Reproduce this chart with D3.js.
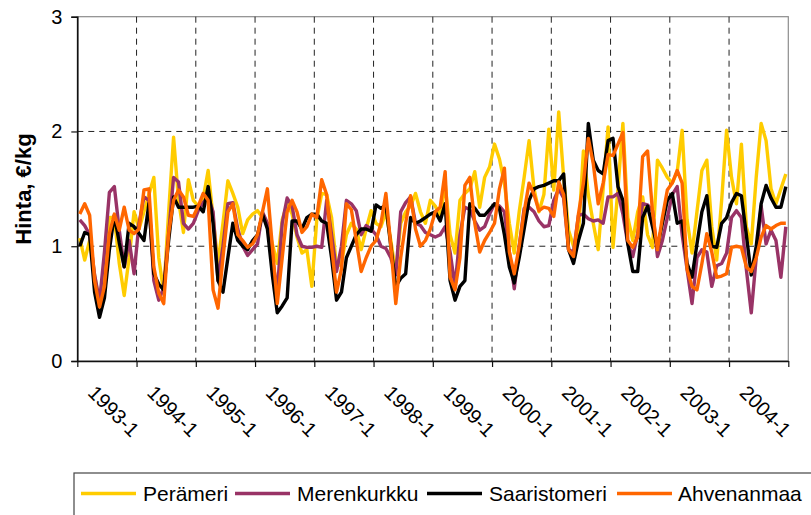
<!DOCTYPE html>
<html><head><meta charset="utf-8">
<script src="https://cdn.jsdelivr.net/npm/d3@7/dist/d3.min.js"></script>
<style>body{margin:0;background:#fff} svg{display:block;font-family:"Liberation Sans",Arial,sans-serif}</style>
</head><body><svg id="c" width="811" height="515"></svg>
<script>
const seriesNames = ["Perämeri","Merenkurkku","Saaristomeri","Ahvenanmaa"];
const seriesColors = ["#FFCC00","#993366","#000000","#FF6600"];
const yearLabels = ["1993-1","1994-1","1995-1","1996-1","1997-1","1998-1","1999-1","2000-1","2001-1","2002-1","2003-1","2004-1"];
const yTicks = [0,1,2,3];

const perameri = [1.07,0.88,1.05,0.75,0.5,0.8,1.25,1.25,0.85,0.57,0.9,1.3,
 1.15,1.3,1.45,1.6,0.9,0.6,1.3,1.95,1.4,1.12,1.58,1.4,
 1.35,1.42,1.66,1.25,0.85,1.2,1.57,1.46,1.34,1.11,1.23,1.28,
 1.31,1.25,1.2,1.02,0.85,1.23,1.37,1.28,1.08,0.94,0.97,0.65,
 1.23,1.46,1.45,1.25,0.82,0.85,1.1,1.2,1.15,0.97,1.15,1.31,
 1.2,1.17,1.3,1.05,0.76,1.2,1.3,1.35,1.46,1.3,1.2,1.4,
 1.35,1.26,1.55,1.1,0.94,1.4,1.46,1.5,1.65,1.34,1.6,1.69,
 1.89,1.76,1.55,1.2,0.94,1.3,1.6,1.92,1.5,1.3,1.45,2.02,
 1.49,2.17,1.6,1.14,1.0,1.1,1.83,1.45,1.2,0.97,1.5,2.04,
 0.99,1.5,2.07,1.25,1.05,1.3,1.43,1.1,0.99,1.75,1.68,1.6,
 1.55,1.65,2.01,1.23,0.94,1.3,1.66,1.75,1.17,0.88,1.4,2.01,
 1.6,1.37,1.89,1.17,1.02,1.6,2.07,1.92,1.5,1.37,1.5,1.63];
const merenkurkku = [1.23,1.18,1.1,0.75,0.52,0.95,1.47,1.52,1.14,0.82,1.05,0.76,
 1.2,1.43,1.4,0.7,0.53,0.64,1.11,1.6,1.56,1.2,1.15,1.2,
 1.31,1.38,1.43,1.3,0.7,1.0,1.37,1.38,1.15,1.0,0.92,0.97,
 1.02,1.3,1.2,0.9,0.6,1.2,1.42,1.35,1.1,1.0,0.99,0.99,
 1.0,0.99,1.4,1.1,0.78,1.0,1.4,1.37,1.31,1.1,1.18,1.15,
 1.1,1.0,0.98,0.9,0.75,1.3,1.38,1.43,1.2,1.18,1.12,1.1,
 1.08,1.1,1.17,0.95,0.65,1.1,1.34,1.32,1.22,1.14,1.17,1.28,
 1.37,1.35,1.3,0.95,0.63,1.0,1.33,1.34,1.3,1.22,1.17,1.18,
 1.4,1.5,1.42,0.97,0.95,1.27,1.28,1.24,1.22,1.23,1.2,1.43,
 1.43,1.46,1.28,1.02,0.91,1.11,1.37,1.36,1.31,0.91,1.05,1.25,
 1.45,1.52,1.1,0.8,0.5,0.9,0.97,0.95,0.65,0.83,0.85,0.94,
 1.25,1.31,1.25,0.8,0.42,0.9,1.35,1.02,1.14,1.05,0.73,1.17];
const saaristomeri = [1.0,1.12,1.1,0.6,0.38,0.55,0.97,1.27,1.03,0.82,1.2,1.17,
 1.11,1.05,1.37,0.76,0.67,0.62,1.05,1.43,1.34,1.34,1.34,1.34,
 1.35,1.3,1.52,1.2,0.7,0.6,0.9,1.2,1.05,1.0,0.97,1.05,
 1.1,1.28,1.15,0.75,0.42,0.48,0.55,1.22,1.22,1.15,1.25,1.28,
 1.28,1.22,1.2,0.9,0.53,0.6,0.9,1.0,1.1,1.15,1.15,1.13,
 1.36,1.33,1.36,1.0,0.65,0.72,0.76,1.25,1.2,1.22,1.25,1.28,
 1.3,1.22,1.37,0.7,0.53,0.65,0.7,1.37,1.33,1.27,1.27,1.32,
 1.37,1.33,1.1,0.82,0.68,0.9,1.15,1.4,1.5,1.52,1.53,1.55,
 1.57,1.57,1.63,0.97,0.85,1.05,1.2,2.07,1.75,1.66,1.63,1.92,
 1.94,1.52,1.4,1.02,0.78,0.78,1.25,1.35,1.17,0.99,1.2,1.4,
 1.46,1.2,1.22,0.85,0.73,1.02,1.3,1.44,1.0,0.99,1.2,1.25,
 1.38,1.46,1.44,1.1,0.75,1.0,1.37,1.53,1.42,1.34,1.34,1.52];
const ahvenanmaa = [1.28,1.37,1.27,0.7,0.47,0.65,1.11,1.28,1.14,1.34,1.14,1.11,
 1.15,1.49,1.5,0.82,0.59,0.5,1.11,1.4,1.49,1.43,1.27,1.26,
 1.35,1.46,1.4,0.62,0.46,0.9,1.3,1.37,1.1,1.05,0.99,1.02,
 1.1,1.3,1.5,1.0,0.5,0.9,1.3,1.4,1.3,1.12,1.17,1.28,
 1.25,1.58,1.45,1.0,0.6,0.8,1.37,1.32,1.05,0.78,0.9,1.0,
 1.05,1.2,1.46,1.0,0.5,0.9,1.2,1.44,1.15,1.0,1.05,1.15,
 1.3,1.34,1.65,0.73,0.62,0.9,1.53,1.6,1.2,0.95,1.05,1.12,
 1.2,1.5,1.68,0.95,0.76,1.0,1.3,1.55,1.45,1.31,1.34,1.33,
 1.26,1.56,1.45,0.97,0.91,1.28,1.55,1.94,1.72,1.37,1.55,1.8,
 1.79,1.89,1.99,1.05,0.99,1.08,1.78,1.83,1.3,0.97,1.25,1.49,
 1.55,1.66,1.55,0.8,0.65,0.62,0.85,1.11,0.95,0.73,0.74,0.76,
 0.99,1.0,0.99,0.82,0.78,0.9,1.08,1.18,1.15,1.18,1.2,1.2];

const seriesValues = [perameri, merenkurkku, saaristomeri, ahvenanmaa];
const nMonths = perameri.length;

const svg = d3.select("#c");
const L = 77.3, R = 788.3, T = 16.7, B = 361;
const x = d3.scaleLinear().domain([0, nMonths]).range([L, R]);
const y = d3.scaleLinear().domain([0, 3]).range([B, T]);

// plot area border
svg.append("rect").attr("x", L).attr("y", T).attr("width", R - L).attr("height", B - T)
  .attr("fill", "none").attr("stroke", "#8c8c8c").attr("stroke-width", 1.2);

// gridlines
const grid = svg.append("g").attr("stroke", "#222").attr("stroke-width", 1).attr("stroke-dasharray", "6,5");
grid.selectAll("line.h").data([1, 2]).join("line")
  .attr("x1", L).attr("x2", R).attr("y1", d => y(d)).attr("y2", d => y(d));
grid.selectAll("line.v").data(d3.range(12, nMonths, 12)).join("line")
  .attr("x1", d => x(d)).attr("x2", d => x(d)).attr("y1", T).attr("y2", B);

// axes
const yAxis = d3.axisLeft(y).tickValues(yTicks).tickFormat(d3.format("d")).tickSize(6).tickPadding(9);
const gy = svg.append("g").attr("transform", `translate(${L},0)`).call(yAxis);
gy.select(".domain").attr("stroke", "#111").attr("stroke-width", 1.6);
gy.selectAll(".tick line").attr("stroke", "#111").attr("stroke-width", 1.2);
gy.selectAll(".tick text").attr("font-size", 20).attr("font-family", "Liberation Sans, Arial, sans-serif").attr("fill", "#000");

const xAxis = d3.axisBottom(x).tickValues(d3.range(0, nMonths + 1, 12)).tickFormat("").tickSize(6).tickSizeOuter(0);
const gx = svg.append("g").attr("transform", `translate(0,${B})`).call(xAxis);
gx.select(".domain").attr("stroke", "#111").attr("stroke-width", 1.6);
gx.selectAll(".tick line").attr("stroke", "#111").attr("stroke-width", 1.2);

// x labels rotated
svg.append("g").selectAll("text").data(yearLabels).join("text")
  .attr("transform", (d, k) => `translate(${x(k * 12 + 0.5) + 7},${B + 33}) rotate(45)`)
  .attr("font-size", 20).attr("fill", "#000").text(d => d);

// lines
const line = d3.line().x((d, i) => x(i + 0.5)).y(d => y(d));
svg.append("g").selectAll("path").data(seriesValues).join("path")
  .attr("d", d => line(d)).attr("fill", "none")
  .attr("stroke", (d, k) => seriesColors[k]).attr("stroke-width", 3.4)
  .attr("stroke-linejoin", "round");

// y title
svg.append("text").attr("transform", "translate(31,189) rotate(-90)")
  .attr("text-anchor", "middle").attr("font-size", 22).attr("font-weight", "bold").text("Hinta, €/kg");

// legend
const lg = svg.append("g");
lg.append("rect").attr("x", 74).attr("y", 473).attr("width", 760).attr("height", 60)
  .attr("fill", "#fff").attr("stroke", "#444").attr("stroke-width", 1.2);
const legendLineX = [81, 235, 427, 617];
const legendTextX = [143, 297, 489, 678];
seriesNames.forEach((nm, k) => {
  lg.append("line").attr("x1", legendLineX[k]).attr("x2", legendLineX[k] + 55)
    .attr("y1", 493.5).attr("y2", 493.5).attr("stroke", seriesColors[k]).attr("stroke-width", 3.5);
  lg.append("text").attr("x", legendTextX[k]).attr("y", 500.5).attr("font-size", 21).attr("fill", "#000").text(nm);
});
</script></body></html>
